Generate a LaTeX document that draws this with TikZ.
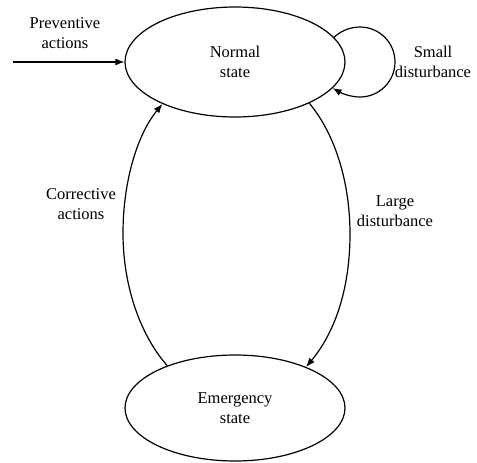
\documentclass[tikz,border=0pt]{standalone}
\usepackage{fontspec}
\setmainfont{Liberation Serif}
\usetikzlibrary{shapes.geometric,arrows.meta}
\begin{document}
\begin{tikzpicture}[x=1pt,y=-1pt,
  state/.style={draw,ellipse,line width=1.2pt,inner sep=0pt,align=center},
  lbl/.style={align=center},
  conn/.style={line width=1.2pt,-{Latex[length=9pt,width=7pt]}},
  every node/.style={font=\fontsize{16.5}{20}\selectfont}]
\useasboundingbox (0,0) rectangle (477,463);
\node[state,minimum width=220pt,minimum height=110pt] (nm) at (235,62) {Normal\\state};
\node[state,minimum width=220pt,minimum height=106pt] (em) at (235,408) {Emergency\\state};
\coordinate (in) at (13,62);
\node[lbl] (pa) at (65,33) {Preventive\\actions};
\node[lbl] (sd) at (433,62) {Small\\disturbance};
\node[lbl] (ca) at (81,204) {Corrective\\actions};
\node[lbl] (ld) at (395,211) {Large\\disturbance};
\draw[conn] (in) -- (nm.west);
\draw[conn] (nm.14) .. controls (340.1,31.4) and (349.8,27) .. (360,27)
  .. controls (379.3,27) and (395,42.7) .. (395,62)
  .. controls (395,81.3) and (379.3,97) .. (360,97)
  .. controls (350.9,97) and (342.1,93.5) .. (nm.-15);
\draw[conn] (em.148) .. controls (138.5,332.8) and (123,283) .. (123,233)
  .. controls (123,183) and (136.6,135.5) .. (nm.210);
\draw[conn] (nm.331) .. controls (335.5,134.6) and (350,183) .. (350,234)
  .. controls (350,285) and (336.8,330) .. (em.30);
\end{tikzpicture}
\end{document}
